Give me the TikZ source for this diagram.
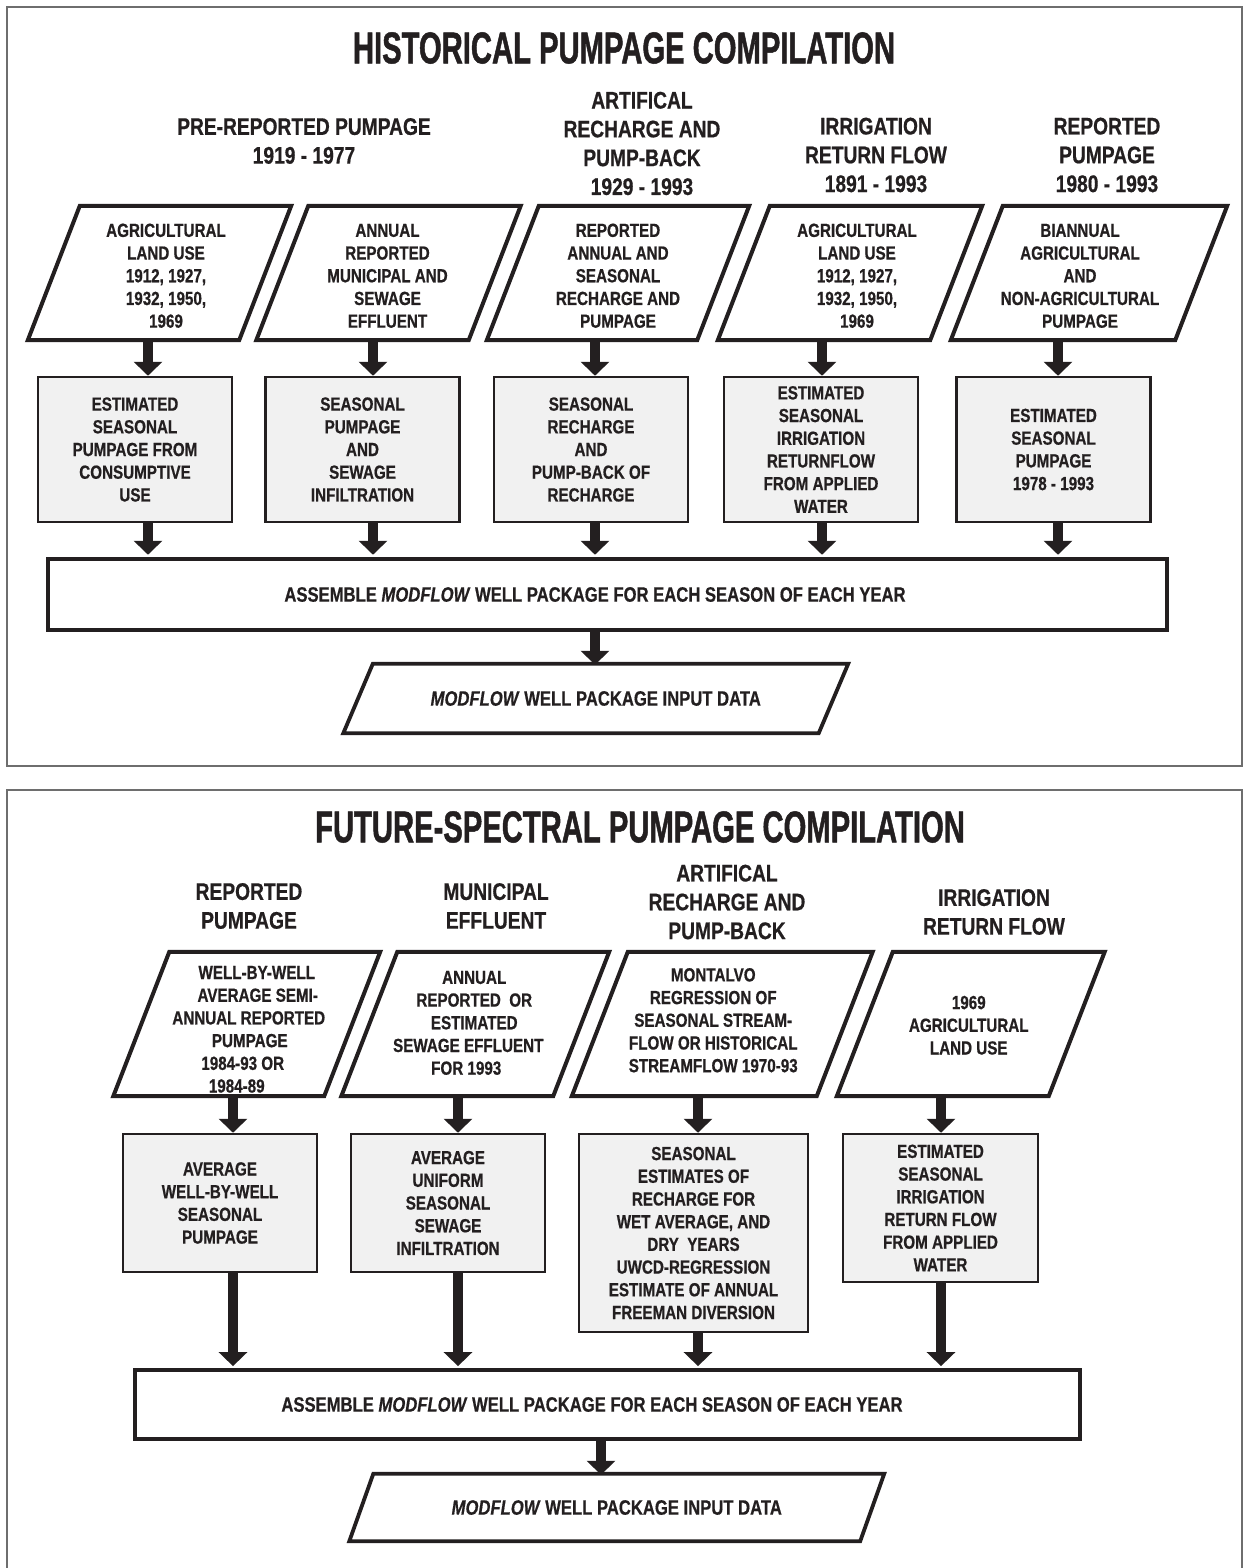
\documentclass[tikz,border=0pt]{standalone}
\usepackage{fontspec}
\usetikzlibrary{arrows.meta}
\newfontfamily\condf{Liberation Sans}[FakeStretch=0.8, BoldFeatures={FakeBold=0.6}, BoldItalicFeatures={FakeBold=0.6}]
\newfontfamily\ttlf{Liberation Sans}[FakeStretch=0.655, BoldFeatures={FakeBold=1}]
\newcommand\boxfont{\condf\bfseries\fontsize{19}{22.7}\selectfont}
\newcommand\lblfont{\condf\bfseries\fontsize{20.8}{24}\selectfont}
\newcommand\headfont{\condf\bfseries\fontsize{24}{28.8}\selectfont}
\newcommand\ttlfont{\ttlf\bfseries\fontsize{44.6}{46}\selectfont}
\definecolor{ink}{HTML}{231F20}
\definecolor{boxgray}{HTML}{F1F1F1}
\definecolor{panelgray}{HTML}{6E6E6E}
% #1 horizontal shift (twice the wanted offset), #2 raise, #3 lines
\newcommand\ptxt[3]{\raisebox{#2}[\height][\depth]{\hspace*{#1}\begin{tabular}{@{}c@{}}#3\end{tabular}}}
\newcommand\sh[2]{\makebox[0pt]{\hspace*{#1}#2}}
\newcommand\drawpara[2]{\draw[paraline] ([xshift=#2]#1.north west) -- ([xshift=#2]#1.north east) -- ([xshift=-#2]#1.south east) -- ([xshift=-#2]#1.south west) -- cycle;}
\tikzset{
  panel/.style={draw=panelgray, line width=1.3pt},
  paranode/.style={inner sep=0pt, font=\boxfont, text=ink},
  paraline/.style={draw=ink, line width=4pt, line join=miter},
  gbox/.style={draw=ink, fill=boxgray, line width=2.5pt, inner sep=0pt, font=\boxfont, align=center, text=ink},
  abox/.style={draw=ink, line width=4.5pt, inner sep=0pt, font=\lblfont, text=ink},
  abox2/.style={abox, line width=3.8pt},
  outnode/.style={inner sep=0pt, font=\lblfont, text=ink},
  headnode/.style={font=\headfont, align=center, inner sep=0pt, text=ink},
  ttlnode/.style={font=\ttlfont, inner sep=0pt, text=ink},
  bigarrow/.style={draw=ink, line width=10pt, -{Triangle[width=28pt,length=14pt]}},
}
\begin{document}
\begin{tikzpicture}[x=1pt,y=-1pt]
\useasboundingbox (0,0) rectangle (1246,1568);
\fill[white] (0,0) rectangle (1246,1568);

% ================= TOP PANEL =================
\draw[panel] (7,7) rectangle (1242,766);
\node[ttlnode] (t1) at (624,48) {HISTORICAL PUMPAGE COMPILATION};

\node[headnode] (h1) at (304,141) {PRE-REPORTED PUMPAGE\\1919 - 1977};
\node[headnode] (h2) at (642,143.5) {ARTIFICAL\\RECHARGE AND\\PUMP-BACK\\1929 - 1993};
\node[headnode] (h3) at (876,155) {IRRIGATION\\RETURN FLOW\\1891 - 1993};
\node[headnode] (h4) at (1107,155) {REPORTED\\PUMPAGE\\1980 - 1993};

% input parallelograms
\node[paranode, minimum width=211pt, minimum height=134pt] (p1) at (159.5,273)
  {\ptxt{13pt}{-4.75pt}{AGRICULTURAL\\LAND USE\\1912, 1927,\\1932, 1950,\\1969}};
\node[paranode, minimum width=212pt, minimum height=134pt] (p2) at (388.5,273)
  {\ptxt{-2pt}{-4.75pt}{ANNUAL\\REPORTED\\MUNICIPAL AND\\SEWAGE\\EFFLUENT}};
\node[paranode, minimum width=210pt, minimum height=134pt] (p3) at (618,273)
  {\ptxt{0pt}{-4.75pt}{REPORTED\\ANNUAL AND\\SEASONAL\\RECHARGE AND\\PUMPAGE}};
\node[paranode, minimum width=212pt, minimum height=134pt] (p4) at (850,273)
  {\ptxt{14pt}{-4.75pt}{AGRICULTURAL\\LAND USE\\1912, 1927,\\1932, 1950,\\1969}};
\node[paranode, minimum width=224pt, minimum height=134pt] (p5) at (1089,273)
  {\ptxt{-18pt}{-4.75pt}{BIANNUAL\\AGRICULTURAL\\AND\\NON-AGRICULTURAL\\PUMPAGE}};
\foreach \n in {p1,p2,p3,p4,p5} {\drawpara{\n}{26pt}}

% gray process boxes
\node[gbox, minimum width=194pt, minimum height=145pt] (b1) at (135,449.5)
  {ESTIMATED\\SEASONAL\\PUMPAGE FROM\\CONSUMPTIVE\\USE};
\node[gbox, minimum width=194pt, minimum height=145pt] (b2) at (362.5,449.5)
  {SEASONAL\\PUMPAGE\\AND\\SEWAGE\\INFILTRATION};
\node[gbox, minimum width=194pt, minimum height=145pt] (b3) at (591,449.5)
  {SEASONAL\\RECHARGE\\AND\\PUMP-BACK OF\\RECHARGE};
\node[gbox, minimum width=194pt, minimum height=145pt] (b4) at (821,449.5)
  {ESTIMATED\\SEASONAL\\IRRIGATION\\RETURNFLOW\\FROM APPLIED\\WATER};
\node[gbox, minimum width=194pt, minimum height=145pt] (b5) at (1053.5,449.5)
  {ESTIMATED\\SEASONAL\\PUMPAGE\\1978 - 1993};

\node[abox, minimum width=1119pt, minimum height=71pt] (a1) at (607.5,594.5)
  {ASSEMBLE \textit{MODFLOW} WELL PACKAGE FOR EACH SEASON OF EACH YEAR\hspace*{25pt}};
\node[outnode, minimum width=475pt, minimum height=69pt] (o1) at (595.75,698.5)
  {\textit{MODFLOW} WELL PACKAGE INPUT DATA};
\draw[paraline, line width=3.8pt] ([xshift=14.75pt]o1.north west) -- ([xshift=14.75pt]o1.north east) -- ([xshift=-14.75pt]o1.south east) -- ([xshift=-14.75pt]o1.south west) -- cycle;

\coordinate (x1) at (148,0);
\coordinate (x2) at (373,0);
\coordinate (x3) at (595,0);
\coordinate (x4) at (822,0);
\coordinate (x5) at (1058,0);
\foreach \i in {1,...,5} {
  \draw[bigarrow] (p\i.south -| x\i) -- (b\i.north -| x\i);
  \draw[bigarrow] (b\i.south -| x\i) -- ([yshift=2pt]a1.north -| x\i);
}
\draw[bigarrow] (a1.south -| x3) -- ([yshift=-1pt]o1.north -| x3);

% ================= BOTTOM PANEL =================
\draw[panel] (7,1572) -- (7,790) -- (1242,790) -- (1242,1572);
\node[ttlnode] (t2) at (640,827) {FUTURE-SPECTRAL PUMPAGE COMPILATION};

\node[headnode] (g1) at (249,906) {REPORTED\\PUMPAGE};
\node[headnode] (g2) at (496,906) {MUNICIPAL\\EFFLUENT};
\node[headnode] (g3) at (727,902) {ARTIFICAL\\RECHARGE AND\\PUMP-BACK};
\node[headnode] (g4) at (994,912) {IRRIGATION\\RETURN FLOW};

\node[paranode, minimum width=210.5pt, minimum height=144pt] (q1) at (246.75,1024)
  {\ptxt{0pt}{-7.25pt}{\sh{20pt}{WELL-BY-WELL}\\\sh{22pt}{AVERAGE SEMI-}\\\sh{4pt}{ANNUAL REPORTED}\\\sh{6pt}{PUMPAGE}\\\sh{-8pt}{1984-93 OR}\\\sh{-20pt}{1984-89}}};
\node[paranode, minimum width=211.5pt, minimum height=144pt] (q2) at (475.25,1024)
  {\ptxt{0pt}{-0.75pt}{\sh{-2pt}{ANNUAL}\\\sh{-2pt}{REPORTED\ \ OR}\\\sh{-2pt}{ESTIMATED}\\\sh{-14pt}{SEWAGE EFFLUENT}\\\sh{-18pt}{FOR 1993}}};
\node[paranode, minimum width=244.5pt, minimum height=144pt] (q3) at (722.25,1024)
  {\ptxt{-18pt}{1.75pt}{MONTALVO\\REGRESSION OF\\SEASONAL STREAM-\\FLOW OR HISTORICAL\\STREAMFLOW 1970-93}};
\node[paranode, minimum width=211.5pt, minimum height=144pt] (q4) at (970.75,1024)
  {\ptxt{-4pt}{-3.25pt}{1969\\AGRICULTURAL\\LAND USE}};
\foreach \n in {q1,q2,q3,q4} {\drawpara{\n}{28pt}}

\node[gbox, minimum width=194pt, minimum height=138pt] (c1) at (220,1203)
  {AVERAGE\\WELL-BY-WELL\\SEASONAL\\PUMPAGE};
\node[gbox, minimum width=194pt, minimum height=138pt] (c2) at (448,1203)
  {AVERAGE\\UNIFORM\\SEASONAL\\SEWAGE\\INFILTRATION};
\node[gbox, minimum width=229pt, minimum height=198pt] (c3) at (693.5,1233)
  {SEASONAL\\ESTIMATES OF\\RECHARGE FOR\\WET AVERAGE, AND\\DRY\ \ YEARS\\UWCD-REGRESSION\\ESTIMATE OF ANNUAL\\FREEMAN DIVERSION};
\node[gbox, minimum width=195pt, minimum height=148pt] (c4) at (940.5,1208)
  {ESTIMATED\\SEASONAL\\IRRIGATION\\RETURN FLOW\\FROM APPLIED\\WATER};

\node[abox2, minimum width=945pt, minimum height=69pt] (a2) at (607.5,1404.5)
  {ASSEMBLE \textit{MODFLOW} WELL PACKAGE FOR EACH SEASON OF EACH YEAR\hspace*{31pt}};
\node[outnode, minimum width=510.5pt, minimum height=67pt] (o2) at (616.75,1507.5)
  {\textit{MODFLOW} WELL PACKAGE INPUT DATA};
\draw[paraline, line width=3.8pt] ([xshift=12pt]o2.north west) -- ([xshift=12pt]o2.north east) -- ([xshift=-12pt]o2.south east) -- ([xshift=-12pt]o2.south west) -- cycle;

\coordinate (y1) at (233,0);
\coordinate (y2) at (458,0);
\coordinate (y3) at (698,0);
\coordinate (y4) at (941,0);
\coordinate (y5) at (601,0);
\foreach \i in {1,...,4} {
  \draw[bigarrow] (q\i.south -| y\i) -- (c\i.north -| y\i);
  \draw[bigarrow] (c\i.south -| y\i) -- ([yshift=2pt]a2.north -| y\i);
}
\draw[bigarrow] (a2.south -| y5) -- ([yshift=-1pt]o2.north -| y5);
\end{tikzpicture}
\end{document}
